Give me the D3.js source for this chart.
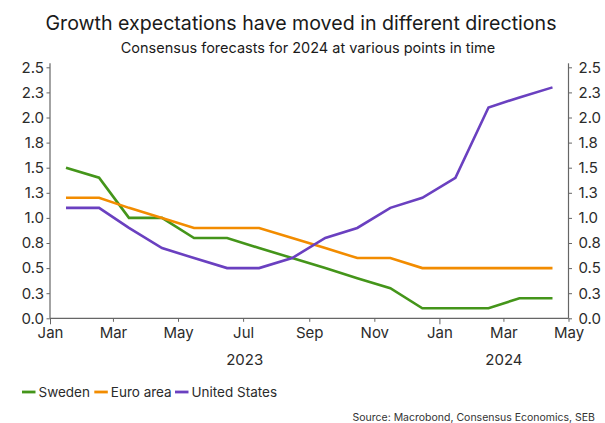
<!DOCTYPE html>
<html>
<head>
<meta charset="utf-8">
<script src="https://cdn.jsdelivr.net/npm/d3@7"></script>
<style>
  html, body { margin: 0; padding: 0; background: #fff; }
  svg { display: block; font-family: Inter, "Noto Sans", sans-serif; }
</style>
</head>
<body>
<svg id="chart" width="605" height="423"></svg>
<script>
// Monthly survey dates (plotted mid-month), Jan 2023 – Apr 2024
const months = [
  "2023-01-16", "2023-02-16", "2023-03-16", "2023-04-16", "2023-05-16", "2023-06-16",
  "2023-07-16", "2023-08-16", "2023-09-16", "2023-10-16", "2023-11-16", "2023-12-16",
  "2024-01-16", "2024-02-16", "2024-03-16", "2024-04-16"
];
// Consensus GDP growth forecasts for 2024, %
const sweden   = [1.5, 1.4, 1.0, 1.0, 0.8, 0.8, 0.7, 0.6, 0.5, 0.4, 0.3, 0.1, 0.1, 0.1, 0.2, 0.2];
const euroArea = [1.2, 1.2, 1.1, 1.0, 0.9, 0.9, 0.9, 0.8, 0.7, 0.6, 0.6, 0.5, 0.5, 0.5, 0.5, 0.5];
const usa      = [1.1, 1.1, 0.9, 0.7, 0.6, 0.5, 0.5, 0.6, 0.8, 0.9, 1.1, 1.2, 1.4, 2.1, 2.2, 2.3];

const seriesNames  = ["Sweden", "Euro area", "United States"];
const seriesColors = ["#44951a", "#f28c00", "#6a40c0"];
const seriesValues = [sweden, euroArea, usa];

const yTicks = [0, 0.25, 0.5, 0.75, 1.0, 1.25, 1.5, 1.75, 2.0, 2.25, 2.5];
const xDomain = ["2023-01-01", "2024-05-01"];
const years = [2023, 2024];

const title = "Growth expectations have moved in different directions";
const subtitle = "Consensus forecasts for 2024 at various points in time";
const source = "Source: Macrobond, Consensus Economics, SEB";

const parse = d3.utcParse("%Y-%m-%d");
const svg = d3.select("#chart");

const plotLeft = 50, plotRight = 568.5, plotTop = 67.3, plotBottom = 318.3;

const x = d3.scaleUtc().domain(xDomain.map(parse)).range([plotLeft, plotRight]);
const y = d3.scaleLinear().domain([0, 2.5]).range([plotBottom, plotTop]);

const axisColor = "#666";
const textColor = "#2b2b2b";
const tickFont = 15;

// Titles
svg.append("text")
  .attr("x", 301).attr("y", 30)
  .attr("text-anchor", "middle")
  .attr("font-size", 19.6).attr("fill", "#1a1a1a")
  .text(title);
svg.append("text")
  .attr("x", 308).attr("y", 53)
  .attr("text-anchor", "middle")
  .attr("font-size", 14.5).attr("fill", "#1a1a1a")
  .text(subtitle);

const fmt = d3.format(".1f");

// Left value axis
const gL = svg.append("g").attr("transform", `translate(${plotLeft},0)`)
  .call(d3.axisLeft(y).tickValues(yTicks).tickFormat(fmt).tickSize(3.5).tickPadding(2.5));
// Right value axis
const gR = svg.append("g").attr("transform", `translate(${plotRight},0)`)
  .call(d3.axisRight(y).tickValues(yTicks).tickFormat(fmt).tickSize(3.5).tickPadding(6.5));

[gL, gR].forEach(g => {
  g.select(".domain").attr("stroke", axisColor).attr("stroke-width", 1.2)
    .attr("d", `M0,${plotBottom}V${plotTop - 4}`);
  g.selectAll(".tick line").attr("stroke", axisColor);
  g.selectAll(".tick text").attr("font-size", tickFont).attr("fill", textColor)
    .attr("font-family", "Inter, sans-serif");
});

// Time axis: ticks every two months, longer mark at year start
const monthTicks = x.ticks(d3.utcMonth.every(2));
const gX = svg.append("g").attr("transform", `translate(0,${plotBottom})`)
  .call(d3.axisBottom(x).tickValues(monthTicks)
    .tickFormat(d3.utcFormat("%b")).tickSize(3.5).tickPadding(6));
gX.select(".domain").attr("stroke", axisColor).attr("stroke-width", 1.2)
  .attr("d", `M${plotLeft},0H${plotRight}`);
gX.selectAll(".tick line").attr("stroke", axisColor)
  .attr("y2", d => d.getUTCMonth() === 0 ? 6 : 3.5);
gX.selectAll(".tick text").attr("font-size", tickFont).attr("fill", textColor)
  .attr("font-family", "Inter, sans-serif");

// Year labels centred on each year's visible span
const [d0, d1] = x.domain();
years.forEach(yr => {
  const s = new Date(Math.max(Date.UTC(yr, 0, 1), d0));
  const e = new Date(Math.min(Date.UTC(yr + 1, 0, 1), d1));
  svg.append("text")
    .attr("x", (x(s) + x(e)) / 2).attr("y", 365)
    .attr("text-anchor", "middle")
    .attr("font-size", tickFont).attr("fill", textColor)
    .text(yr);
});

// Series lines
const line = d3.line()
  .x((d, i) => x(parse(months[i])))
  .y(d => y(d));

seriesValues.forEach((vals, k) => {
  svg.append("path")
    .datum(vals)
    .attr("fill", "none")
    .attr("stroke", seriesColors[k])
    .attr("stroke-width", 2.6)
    .attr("stroke-linejoin", "miter")
    .attr("d", line);
});

// Legend
const legendX = [22, 94.3, 175];
const legend = svg.append("g");
seriesNames.forEach((name, k) => {
  legend.append("line")
    .attr("x1", legendX[k]).attr("x2", legendX[k] + 13.5)
    .attr("y1", 392).attr("y2", 392)
    .attr("stroke", seriesColors[k]).attr("stroke-width", 2.8);
  legend.append("text")
    .attr("x", legendX[k] + 16.5).attr("y", 397)
    .attr("font-size", 13.5).attr("fill", textColor)
    .text(name);
});

// Source note
svg.append("text")
  .attr("x", 595).attr("y", 420.5)
  .attr("text-anchor", "end")
  .attr("font-size", 10.5).attr("fill", "#333")
  .text(source);
</script>
</body>
</html>
